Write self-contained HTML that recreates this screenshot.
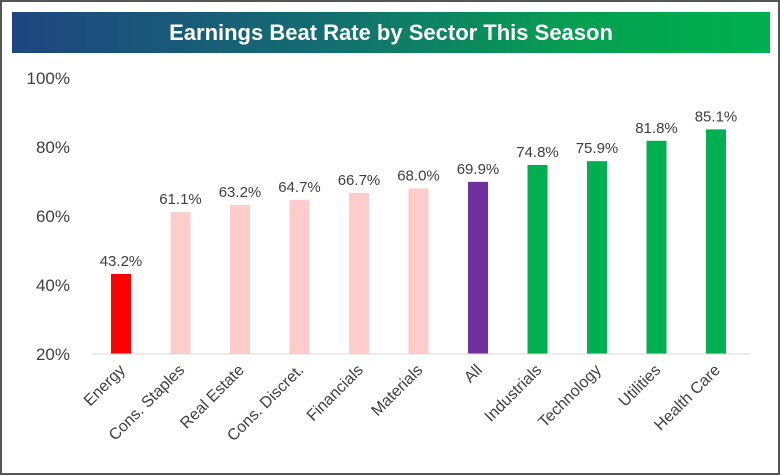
<!DOCTYPE html>
<html><head><meta charset="utf-8"><style>
body{margin:0;background:#fff}
#wrap{position:relative;width:776px;height:471px;border:2px solid #555;background:#fff;overflow:hidden}
#title{position:absolute;left:10px;top:10px;width:758px;height:41px;background:linear-gradient(90deg,#1f4580 0%,#136c72 40%,#05a050 75%,#00b050 100%);color:#fff;font:bold 22px "Liberation Sans",sans-serif;text-align:center;line-height:41px}
svg{position:absolute;left:0;top:0}
text{font-family:"Liberation Sans",sans-serif;fill:#404040}
</style></head><body>
<div id="wrap">
<div id="title">Earnings Beat Rate by Sector This Season</div>
<svg id="chart" width="776" height="471"></svg>
</div>
<script>
const categories=["Energy","Cons. Staples","Real Estate","Cons. Discret.","Financials","Materials","All","Industrials","Technology","Utilities","Health Care"];
const values=[43.2,61.1,63.2,64.7,66.7,68.0,69.9,74.8,75.9,81.8,85.1];
const colors=["#ff0000","#ffcccc","#ffcccc","#ffcccc","#ffcccc","#ffcccc","#7030a0","#00b050","#00b050","#00b050","#00b050"];
const ticks=[20,40,60,80,100];
const NS="http://www.w3.org/2000/svg";
const svg=document.getElementById('chart');
const y=v=>352-(v-20)*3.45;
const x=i=>119+i*59.5;
function mk(t,a){const e=document.createElementNS(NS,t);for(const k in a)e.setAttribute(k,a[k]);svg.appendChild(e);return e;}
ticks.forEach(t=>{const e=mk('text',{x:68,y:y(t)+6,'text-anchor':'end','font-size':17});e.textContent=t+'%';

});
values.forEach((v,i)=>{
const r=mk('rect',{x:x(i)-10,y:y(v),width:20,height:y(20)-y(v),fill:colors[i]});


const l=mk('text',{x:x(i),y:y(v)-8,'text-anchor':'middle','font-size':15});l.textContent=v.toFixed(1)+'%';


const c=mk('text',{x:x(i)+5,y:369,'text-anchor':'end','font-size':16,transform:`rotate(-45 ${x(i)+5} 369)`});c.textContent=categories[i];


});
const ax=mk('line',{x1:90,x2:748,y1:y(20),y2:y(20),stroke:'#d9d9d9','stroke-width':1});


</script>
</body></html>
